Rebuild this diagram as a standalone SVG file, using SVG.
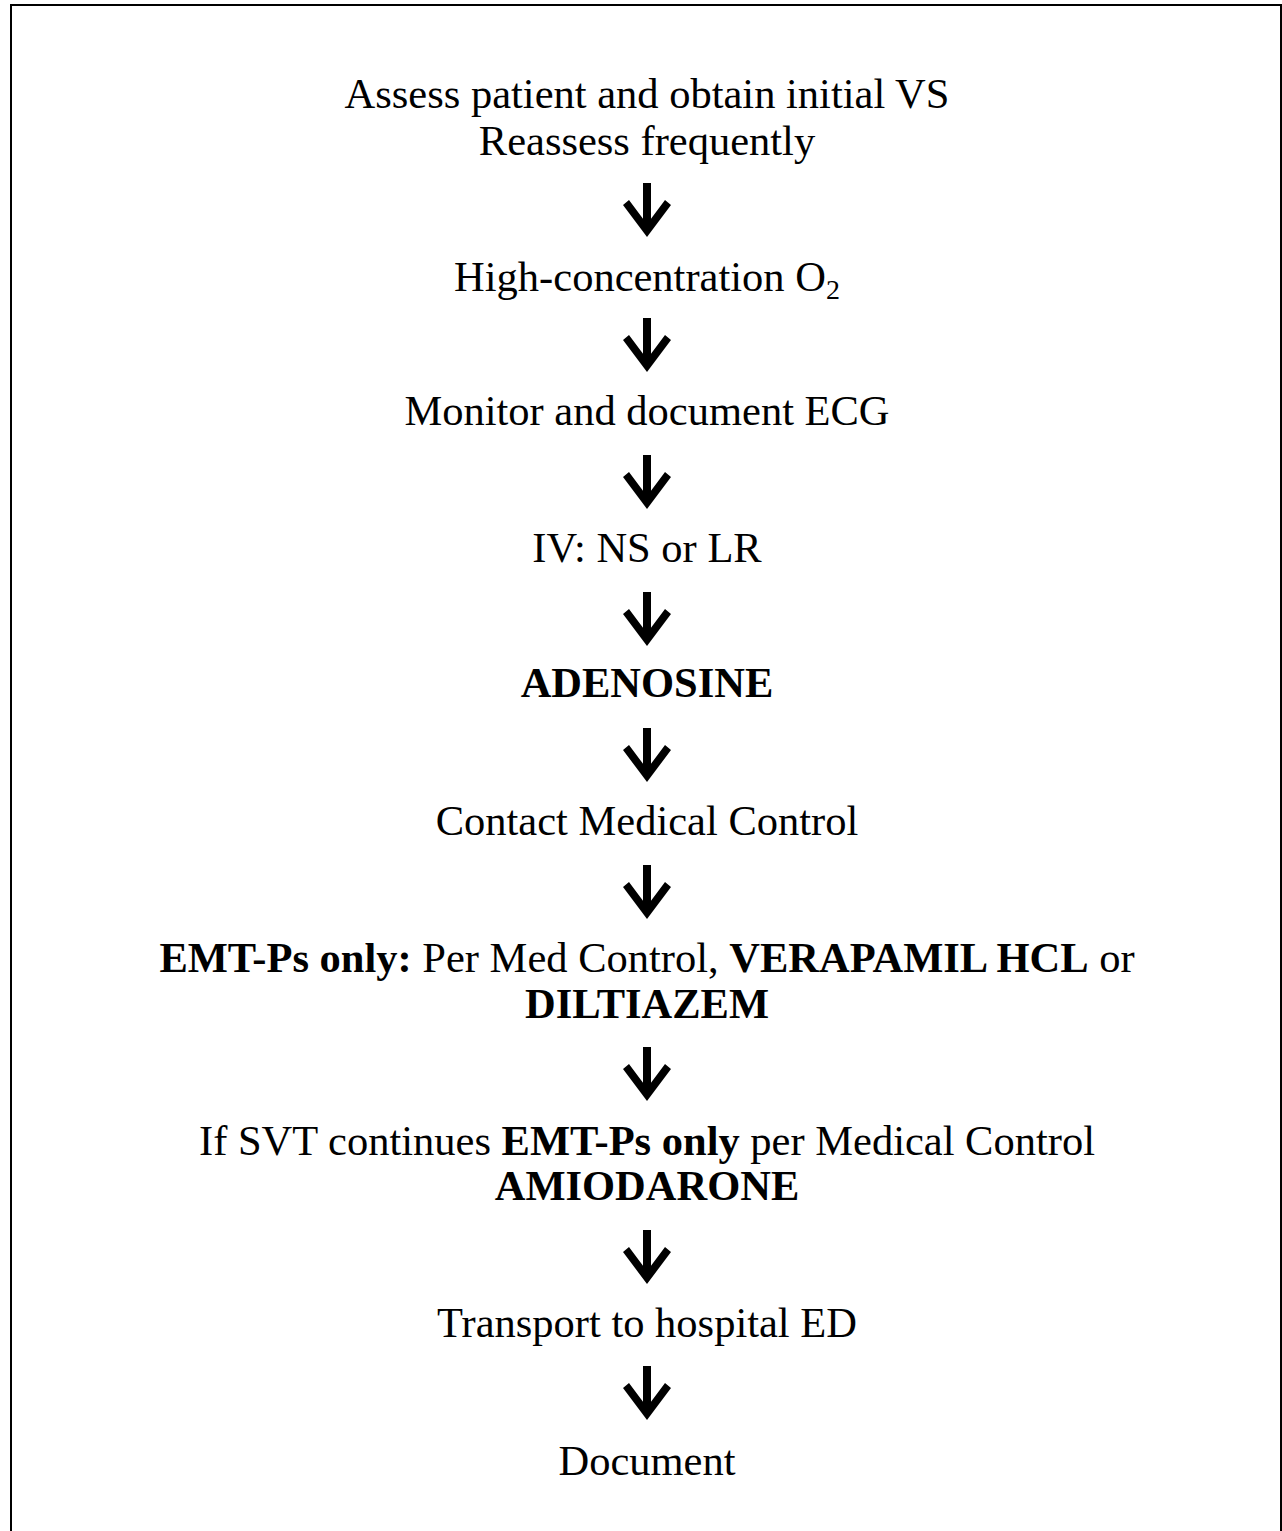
<svg xmlns="http://www.w3.org/2000/svg" width="1282" height="1531" viewBox="0 0 1282 1531">
<style>
  text { font-family: "Liberation Serif", "Times New Roman", serif; font-size: 42.5px; fill: #000; text-anchor: middle; }
  .b { font-weight: bold; }
  .arrow { fill: #000; }
</style>
<defs>
  <path id="arr" class="arrow" d="M -4 -54 L 4 -54 L 4 -18.3 L 18 -37 L 24 -32 L 0 0 L -24 -32 L -18 -37 L -4 -18.3 Z"/>
</defs>
<rect x="11" y="5" width="1270" height="1600" fill="#fff" stroke="#000" stroke-width="2"/>
<g id="n1"><text x="647" y="108">Assess patient and obtain initial VS</text><text x="647" y="155">Reassess frequently</text></g>
<g id="n2"><text x="647" y="291">High-concentration O<tspan font-size="28" dy="8">2</tspan></text></g>
<g id="n3"><text x="647" y="425">Monitor and document ECG</text></g>
<g id="n4"><text x="647" y="562">IV: NS or LR</text></g>
<g id="n5"><text x="647" y="697" class="b">ADENOSINE</text></g>
<g id="n6"><text x="647" y="835">Contact Medical Control</text></g>
<g id="n7"><text x="647" y="972"><tspan class="b">EMT-Ps only:</tspan> Per Med Control, <tspan class="b">VERAPAMIL HCL</tspan> or</text><text x="647" y="1018" class="b">DILTIAZEM</text></g>
<g id="n8"><text x="647" y="1155">If SVT continues <tspan class="b">EMT-Ps only</tspan> per Medical Control</text><text x="647" y="1200" class="b">AMIODARONE</text></g>
<g id="n9"><text x="647" y="1337">Transport to hospital ED</text></g>
<g id="n10"><text x="647" y="1475">Document</text></g>
<g id="connectors">
  <use href="#arr" x="647" y="237"/>
  <use href="#arr" x="647" y="372"/>
  <use href="#arr" x="647" y="509"/>
  <use href="#arr" x="647" y="646"/>
  <use href="#arr" x="647" y="782"/>
  <use href="#arr" x="647" y="919"/>
  <use href="#arr" x="647" y="1101"/>
  <use href="#arr" x="647" y="1284"/>
  <use href="#arr" x="647" y="1420"/>
</g>
</svg>
